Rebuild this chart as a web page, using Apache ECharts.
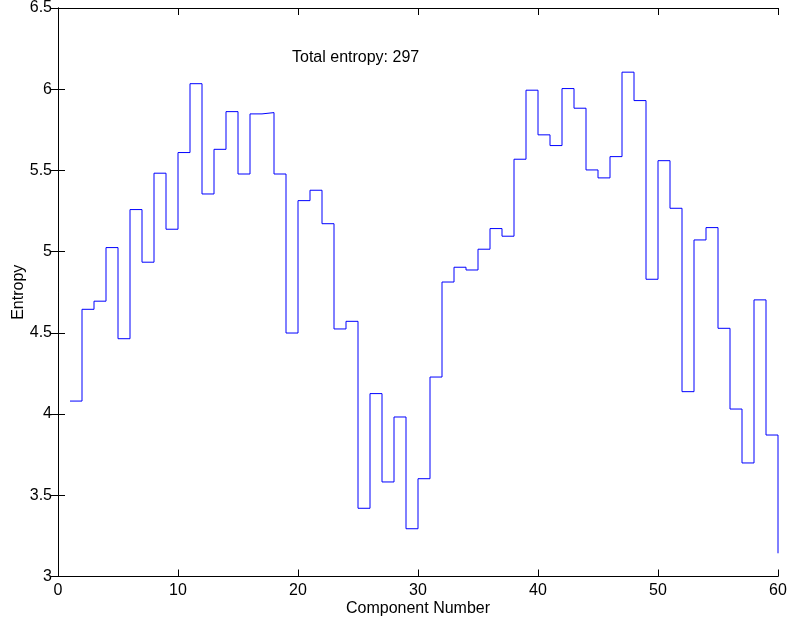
<!DOCTYPE html>
<html>
<head>
<meta charset="utf-8">
<script src="https://cdn.jsdelivr.net/npm/echarts@6/dist/echarts.min.js"></script>
<style>
html,body{margin:0;padding:0;background:#fff;}
#chart{width:787px;height:623px;}
</style>
</head>
<body>
<div id="chart"></div>
<script>
const components = [1,2,3,4,5,6,7,8,9,10,11,12,13,14,15,16,17,18,19,20,
  21,22,23,24,25,26,27,28,29,30,31,32,33,34,35,36,37,38,39,40,
  41,42,43,44,45,46,47,48,49,50,51,52,53,54,55,56,57,58,59,60];
const entropy = [4.08,4.645,4.695,5.025,4.464,5.259,4.935,5.483,5.138,5.610,
  6.034,5.355,5.630,5.862,5.478,5.848,5.856,5.478,4.499,5.314,
  5.378,5.172,4.524,4.571,3.420,4.126,3.582,3.982,3.294,3.602,
  4.228,4.813,4.904,4.887,5.015,5.142,5.095,5.569,5.994,5.719,
  5.653,6.004,5.883,5.503,5.454,5.585,6.105,5.930,4.830,5.560,
  5.267,4.138,5.072,5.148,4.528,4.031,3.699,4.703,3.871,3.143];
const xTicks = {min: 0, max: 60, interval: 10};
const yTicks = {min: 3, max: 6.5, interval: 0.5};
const annotation = 'Total entropy: 297';

const seriesData = components.map((c, i) => [c, entropy[i]]);
const font = 'Liberation Sans, Arial, Helvetica, sans-serif';
const axisCommon = {
  axisLine: {show: true, lineStyle: {color: '#000', width: 1}},
  axisTick: {show: true, inside: true, length: 7, lineStyle: {color: '#000', width: 1}},
  splitLine: {show: false}
};

const chart = echarts.init(document.getElementById('chart'), null, {renderer: 'canvas'});
chart.setOption({
  animation: false,
  backgroundColor: '#fff',
  grid: {left: 58, right: 9, top: 8, bottom: 46.5, containLabel: false, outerBoundsMode: 'none'},
  xAxis: [
    Object.assign({
      type: 'value', position: 'bottom',
      min: xTicks.min, max: xTicks.max, interval: xTicks.interval,
      name: 'Component Number', nameLocation: 'middle', nameGap: 24, nameMoveOverlap: false,
      nameTextStyle: {color: '#000', fontSize: 16, fontFamily: font},
      axisLabel: {color: '#000', fontSize: 16, fontFamily: font, margin: 6}
    }, axisCommon),
    Object.assign({
      type: 'value', position: 'top',
      min: xTicks.min, max: xTicks.max, interval: xTicks.interval,
      axisLabel: {show: false}
    }, axisCommon)
  ],
  yAxis: [
    Object.assign({
      type: 'value', position: 'left',
      min: yTicks.min, max: yTicks.max, interval: yTicks.interval,
      name: 'Entropy', nameLocation: 'middle', nameGap: 31, nameRotate: 90, nameMoveOverlap: false,
      nameTextStyle: {color: '#000', fontSize: 16, fontFamily: font},
      axisLabel: {color: '#000', fontSize: 16, fontFamily: font, margin: 6}
    }, axisCommon),
    Object.assign({
      type: 'value', position: 'right',
      min: yTicks.min, max: yTicks.max, interval: yTicks.interval,
      axisLabel: {show: false}
    }, axisCommon)
  ],
  series: [{
    type: 'line',
    step: 'end',
    data: seriesData,
    showSymbol: false,
    symbol: 'none',
    lineStyle: {color: '#0000ff', width: 1},
    clip: false
  }],
  graphic: [{
    type: 'text',
    left: 292,
    top: 50,
    style: {text: annotation, fill: '#000', fontSize: 16, fontFamily: font}
  }]
});
</script>
</body>
</html>
